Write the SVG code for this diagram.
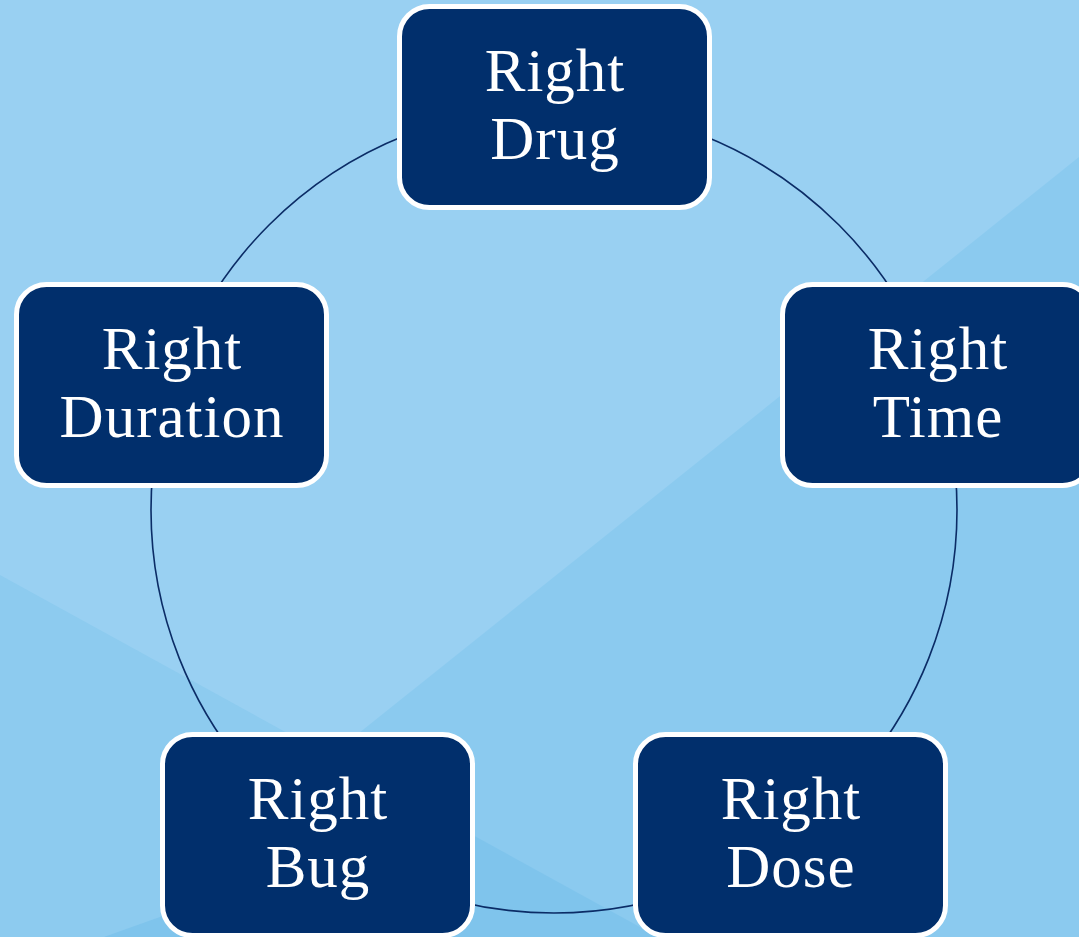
<svg xmlns="http://www.w3.org/2000/svg" width="1079" height="937" viewBox="0 0 1079 937">
<style>
.box{fill:#012F6C;stroke:#FFFFFF;stroke-width:5}
.lbl{font-family:"Liberation Serif","DejaVu Serif",serif;font-size:61px;letter-spacing:1px;fill:#FFFFFF;text-anchor:middle}
.ring{fill:none;stroke:#0B2C66;stroke-width:1.6}
</style>
<rect width="1079" height="937" fill="#99D0F2"/>
<polygon points="1079,157 1079,937 104,937" fill="#8BCAEF"/>
<polygon points="0,575 440,817 104,937 0,937" fill="#8DCBEF"/>
<polygon points="440,817 658,937 104,937" fill="#7FC4EC"/>
<g id="connectors">
<circle class="ring" cx="554" cy="510" r="403"/>
</g>
<g id="node-drug">
<rect class="box" x="399.5" y="6.5" width="310" height="201" rx="30"/>
<text class="lbl" x="555" y="91">Right</text>
<text class="lbl" x="555" y="159">Drug</text>
</g>
<g id="node-time">
<rect class="box" x="782.5" y="284.5" width="310" height="201" rx="30"/>
<text class="lbl" x="938" y="369">Right</text>
<text class="lbl" x="938" y="437">Time</text>
</g>
<g id="node-duration">
<rect class="box" x="16.5" y="284.5" width="310" height="201" rx="30"/>
<text class="lbl" x="172" y="369">Right</text>
<text class="lbl" x="172" y="437">Duration</text>
</g>
<g id="node-bug">
<rect class="box" x="162.5" y="734.5" width="310" height="201" rx="30"/>
<text class="lbl" x="318" y="819">Right</text>
<text class="lbl" x="318" y="887">Bug</text>
</g>
<g id="node-dose">
<rect class="box" x="635.5" y="734.5" width="310" height="201" rx="30"/>
<text class="lbl" x="791" y="819">Right</text>
<text class="lbl" x="791" y="887">Dose</text>
</g>
</svg>
